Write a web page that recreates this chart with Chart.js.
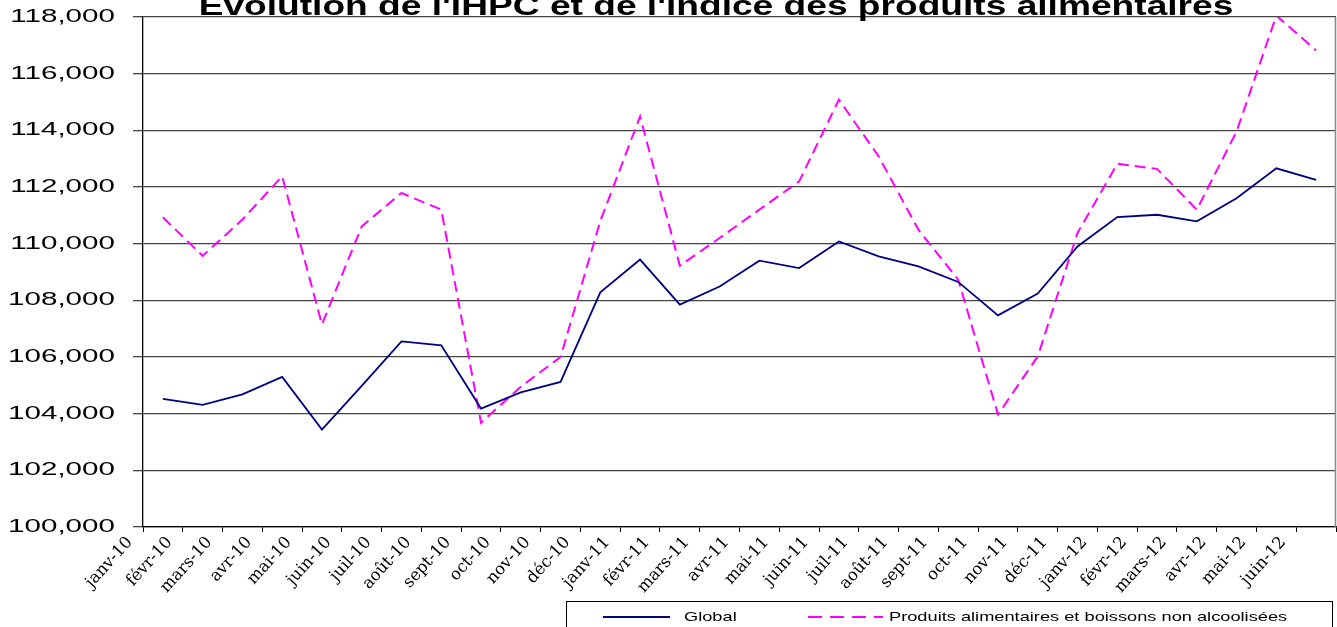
<!DOCTYPE html>
<html>
<head>
<meta charset="utf-8">
<script src="https://cdn.jsdelivr.net/npm/chart.js@4"></script>
<style>
  html, body { margin: 0; padding: 0; background: #fff; }
  canvas { display: block; }
</style>
</head>
<body>
<canvas id="chart" width="1337" height="627"></canvas>
<script>
const title = "Evolution de l'IHPC et de l'indice des produits alimentaires";

const months = ['janv-10', 'févr-10', 'mars-10', 'avr-10', 'mai-10', 'juin-10', 'juil-10', 'août-10', 'sept-10',
    'oct-10', 'nov-10', 'déc-10', 'janv-11', 'févr-11', 'mars-11', 'avr-11', 'mai-11', 'juin-11', 'juil-11',
    'août-11', 'sept-11', 'oct-11', 'nov-11', 'déc-11', 'janv-12', 'févr-12', 'mars-12', 'avr-12', 'mai-12', 'juin-12'];

const globalIndex = [104520, 104310, 104680, 105300, 103440, 104980, 106550, 106410, 104180, 104750,
    105120, 108280, 109440, 107850, 108490, 109400, 109140, 110080, 109550, 109200,
    108650, 107470, 108240, 109900, 110940, 111020, 110790, 111600, 112660, 112250];

const foodIndex = [110930, 109570, 110850, 112380, 107150, 110610, 111790, 111200, 103680, 104950,
    106000, 110800, 114490, 109220, 110200, 111200, 112200, 115080, 113080, 110490,
    108730, 103970, 106020, 110380, 112820, 112640, 111200, 113960, 118050, 116820];

const yMin = 100000;
const yMax = 118000;
const yStep = 2000;

// the source picture is stretched sideways, so its flat texts are too
// (y tick labels are stretched a bit more; rotated labels are left alone)
const Y_TICK_SIZE = 18.5;
function stretchText(ctx) {
    const fillText = ctx.fillText;
    ctx.fillText = function (text, x, y, maxWidth) {
        const m = this.getTransform();
        const size = parseFloat(/([\d.]+)px/.exec(this.font)[1]);
        const sx = Math.abs(m.b) > 0.01 ? 1 : (size === Y_TICK_SIZE ? 1.6 : 1.35);
        const p = m.transformPoint(new DOMPoint(x, y));
        this.save();
        this.setTransform(new DOMMatrix().translate(p.x, p.y).scale(sx, 1).translate(-p.x, -p.y).multiply(m));
        if (maxWidth === undefined) fillText.call(this, text, x, y);
        else fillText.call(this, text, x, y, maxWidth);
        this.restore();
    };
}

// title (cut at the top like the source), right border and boxed legend
const frame = {
    id: 'frame',
    afterDraw(chart) {
        const { ctx, chartArea: area } = chart;
        ctx.save();

        ctx.strokeStyle = '#888';
        ctx.lineWidth = 1.5;
        ctx.beginPath();
        ctx.moveTo(area.right - 0.5, area.top);
        ctx.lineTo(area.right - 0.5, area.bottom);
        ctx.stroke();

        ctx.fillStyle = '#000';
        ctx.font = 'bold 27.5px "Liberation Sans"';
        ctx.textAlign = 'center';
        ctx.textBaseline = 'alphabetic';
        ctx.fillText(title, 716, 15);

        ctx.strokeStyle = '#000';
        ctx.lineWidth = 1;
        ctx.strokeRect(566.5, 601.5, 766, 40);

        const items = [{ x: 603, w: 67, tx: 684 }, { x: 808, w: 75, tx: 889 }];
        ctx.font = '13.5px "Liberation Sans"';
        ctx.textAlign = 'left';
        ctx.textBaseline = 'middle';
        chart.data.datasets.forEach((ds, i) => {
            const it = items[i];
            ctx.strokeStyle = ds.borderColor;
            ctx.lineWidth = ds.borderWidth;
            ctx.setLineDash(ds.borderDash ? [14, 8] : []);
            ctx.beginPath();
            ctx.moveTo(it.x, 617);
            ctx.lineTo(it.x + it.w, 617);
            ctx.stroke();
            ctx.setLineDash([]);
            ctx.fillText(ds.label, it.tx, 617);
        });

        ctx.restore();
    }
};

const canvas = document.getElementById('chart');
const ctx = canvas.getContext('2d');
stretchText(ctx);

new Chart(ctx, {
    type: 'line',
    data: {
        labels: months,
        datasets: [
            {
                label: 'Global',
                data: globalIndex,
                borderColor: '#000080',
                borderWidth: 1.8,
                pointRadius: 0,
                tension: 0
            },
            {
                label: 'Produits alimentaires et boissons non alcoolisées',
                data: foodIndex,
                borderColor: '#ff00ff',
                borderWidth: 2,
                borderDash: [11, 6],
                pointRadius: 0,
                tension: 0
            }
        ]
    },
    options: {
        responsive: false,
        animation: false,
        layout: { padding: { top: 17, right: 1, left: 0, bottom: 0 } },
        plugins: {
            legend: { display: false },
            tooltip: { enabled: false }
        },
        scales: {
            x: {
                offset: true,
                grid: { offset: true, drawOnChartArea: false, tickLength: 5, color: '#000' },
                border: { color: '#000', width: 1.3 },
                ticks: {
                    autoSkip: false,
                    minRotation: 48,
                    maxRotation: 48,
                    labelOffset: -33,
                    padding: 1,
                    color: '#000',
                    font: { family: 'DejaVu Serif', size: 16.5 }
                },
                afterFit: scale => {
                    scale.height = 100;
                    scale.paddingLeft = 0;
                    scale.paddingRight = 0;
                }
            },
            y: {
                min: yMin,
                max: yMax,
                grid: { color: '#444', lineWidth: 1.3, tickLength: 10 },
                border: { color: '#000', width: 1.3 },
                ticks: {
                    stepSize: yStep,
                    padding: 18,
                    color: '#000',
                    font: { family: 'Liberation Sans', size: Y_TICK_SIZE },
                    callback: v => v.toLocaleString('en-US')
                },
                afterFit: scale => {
                    scale.width = 143;
                    scale.paddingTop = 0;
                    scale.paddingBottom = 0;
                }
            }
        }
    },
    plugins: [frame]
});
</script>
</body>
</html>
